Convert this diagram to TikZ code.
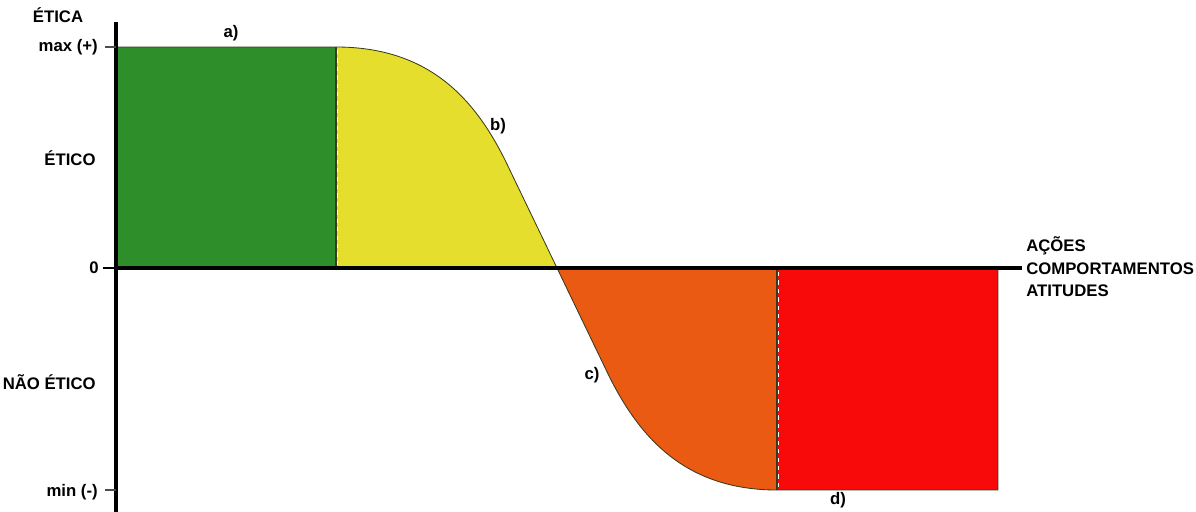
\documentclass[tikz,border=0pt]{standalone}
\usepackage{fontspec}
\setmainfont{Liberation Sans}
\definecolor{ETgreen}{HTML}{2E8E29}
\definecolor{ETyellow}{HTML}{E6DE2C}
\definecolor{ETorange}{HTML}{EA5A12}
\definecolor{ETred}{HTML}{F80A0A}
\definecolor{ETedge}{HTML}{3A3A20}
\usetikzlibrary{positioning}

\begin{document}
\begin{tikzpicture}[x=0.025cm, y=-0.025cm,
      lbl/.style={font=\bfseries\fontsize{11.9}{16}\selectfont, inner sep=0pt},
      tick/.style={line width=0.8pt, black!70}]
            \useasboundingbox (0,0) rectangle (1196,512);
            % Areas
            \fill[ETgreen] (116,47) rectangle (336,268);
            \fill[ETyellow] (336,47) .. controls (430,47) and (475,100) .. (505,160)
               -- (557,268) -- (336,268) -- cycle;
            \fill[ETorange] (557,268) -- (609,376) .. controls (639,436) and (684,490) .. (777,490)
               -- (777,268) -- cycle;
            \fill[ETred] (777,268) rectangle (998,490);
            % Outlines
            \draw[ETedge, line width=0.6pt] (116,47) -- (336,47)
               .. controls (430,47) and (475,100) .. (505,160) -- (557,268);
            \draw[ETedge, line width=0.6pt] (557,268) -- (609,376)
               .. controls (639,436) and (684,490) .. (777,490) -- (998,490) -- (998,268);
            \draw[ETedge, line width=0.8pt] (336,47) -- (336,268);
            \draw[white, dashed, line width=0.5pt] (337.5,50) -- (337.5,266);
            \draw[ETedge, line width=0.8pt] (777,268) -- (777,490);
            \draw[white, dashed, line width=0.5pt] (778.5,272) -- (778.5,488);
            % Axes
            \draw[line width=2.8pt] (116,22) -- (116,512);
            \draw[line width=2.8pt] (116,268) -- (1022,268);
            \draw[tick] (105,47) -- (116,47);
            \draw[line width=1.6pt] (103,268) -- (116,268);
            \draw[tick] (105,490) -- (116,490);
            % Axis labels
            \node[lbl] (etica) at (58,15) {ÉTICA};
            \node[lbl, anchor=east] (max) at (98,47) {max (+)};
            \node[lbl] (etico) at (70,158) {ÉTICO};
            \node[lbl] (zero) at (94,268) {0};
            \node[lbl, anchor=east] (naoetico) at (96,382) {NÃO ÉTICO};
            \node[lbl, anchor=east] (min) at (98,492) {min (-)};
            \node[lbl, anchor=west, align=left] (acoes) at (1026,267)
               {AÇÕES\\COMPORTAMENTOS\\ATITUDES};
            % Curve labels
            \node[lbl] (a) at (231,33) {a)};
            \node[lbl] (b) at (498,126) {b)};
            \node[lbl] (c) at (592,375) {c)};
            \node[lbl] (d) at (838,500) {d)};
         \end{tikzpicture}
\end{document}
